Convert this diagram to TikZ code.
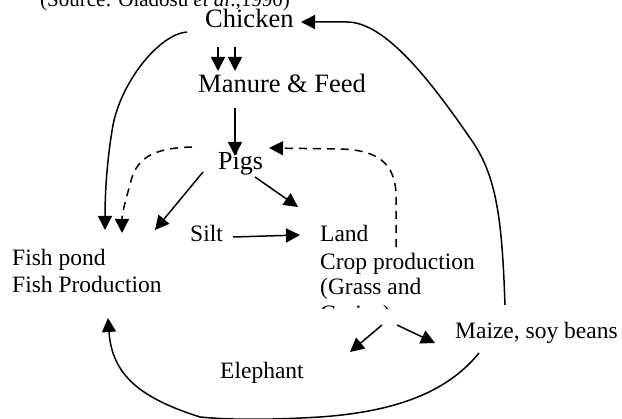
\documentclass[tikz,border=0pt]{standalone}
\usepackage{fontspec}
\setmainfont{Liberation Serif}
\usetikzlibrary{arrows.meta}
\begin{document}
\begin{tikzpicture}[x=1pt,y=-1pt,
  lbl/.style={anchor=base west,inner sep=0pt,font=\fontsize{23.5}{27}\selectfont},
  big/.style={anchor=base west,inner sep=0pt,font=\fontsize{26.5}{30}\selectfont},
  conn/.style={line width=1.5pt,-{Triangle[length=14pt,width=14pt]}},
  dconn/.style={conn,dash pattern=on 8pt off 6pt},
  line/.style={line width=1.5pt}]
\useasboundingbox (0,0) rectangle (622,419);
\clip (0,0) rectangle (622,419);
% texts
\node[anchor=base west,inner sep=0pt,font=\fontsize{21}{24}\selectfont] (src) at (40,7) {(Source: Oladosu \textit{et al}.,1990)};
\node[big] (chicken) at (205,28) {Chicken};
\node[big] (manure) at (198,93) {Manure \& Feed};
\node[big,font=\fontsize{26}{30}\selectfont] (pigs) at (218,170) {Pigs};
\node[lbl] (silt) at (190,242) {Silt};
\node[lbl] (land) at (320,242) {Land};
\node[lbl] (crop) at (320,270) {Crop production};
\node[lbl] (grass) at (320,295) {(Grass and};
\begin{scope}
\clip (300,290) rectangle (420,308.5);
\node[lbl] (grains) at (320,322) {Grains)};
\end{scope}
\node[lbl] (pond) at (12,266) {Fish pond};
\node[lbl] (fishprod) at (12,293) {Fish Production};
\node[lbl] (maize) at (455,339) {Maize, soy beans};
\node[lbl] (elephant) at (220,379) {Elephant};
% connector end points
\coordinate (c1a) at (218,47); \coordinate (c1b) at (218,71);
\coordinate (c2a) at (235,47); \coordinate (c2b) at (235,71);
\coordinate (m1) at (235,108); \coordinate (p1) at (235,156);
\coordinate (p2) at (203,172); \coordinate (f1) at (155,230);
\coordinate (p3) at (255,177); \coordinate (l1) at (298,207);
\coordinate (s1) at (233,237); \coordinate (l2) at (300,235);
\coordinate (ch1) at (187,32); \coordinate (f2) at (105,230);
\coordinate (p4) at (192,147); \coordinate (f3) at (122,233);
\coordinate (l3) at (396,247); \coordinate (p5) at (269,148);
\coordinate (mz1) at (505,305); \coordinate (ch2) at (301,22);
\coordinate (cr1) at (382,325); \coordinate (e1) at (350,352);
\coordinate (cr2) at (397,325); \coordinate (mz2) at (435,343);
\coordinate (mz3) at (479,353); \coordinate (f4) at (108,318);
% connectors
\draw[conn] (c1a) -- (c1b);
\draw[conn] (c2a) -- (c2b);
\draw[conn] (m1) -- (p1);
\draw[conn] (p2) -- (f1);
\draw[conn] (p3) -- (l1);
\draw[conn] (s1) -- (l2);
\draw[conn] (ch1) .. controls (160,34) and (122,80) .. (113,125) .. controls (106,165) and (105,200) .. (f2);
\draw[dconn] (p4) .. controls (150,148) and (135,160) .. (130,185) .. controls (124,205) and (122,215) .. (f3);
\draw[dconn] (l3) -- (396,192) .. controls (394,165) and (380,150) .. (340,149) -- (p5);
\draw[conn] (mz1) .. controls (502,220) and (497,175) .. (470,138) .. controls (430,80) and (385,22) .. (347,22) -- (ch2);
\draw[conn] (cr1) -- (e1);
\draw[conn] (cr2) -- (mz2);
\draw[conn] (mz3) .. controls (445,395) and (390,412) .. (320,417) .. controls (270,420) and (230,420) .. (200,417) .. controls (140,398) and (112,375) .. (f4);
\end{tikzpicture}
\end{document}
